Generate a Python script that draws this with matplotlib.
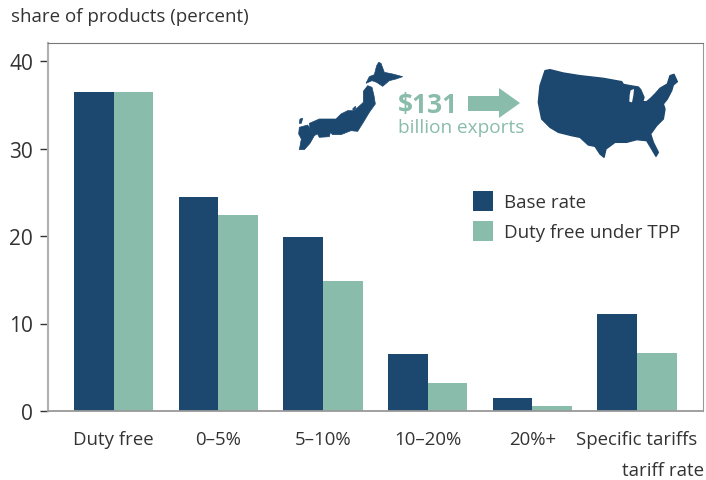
import numpy as np
import matplotlib.pyplot as plt

plt.rcParams['font.family'] = ['Open Sans', 'DejaVu Sans']

categories = ['Duty free', '0–5%', '5–10%', '10–20%', '20%+', 'Specific tariffs']
base_rate = [36.5, 24.5, 19.9, 6.5, 1.5, 11.1]
duty_free_tpp = [36.5, 22.4, 14.9, 3.2, 0.6, 6.6]
yticks = [0, 10, 20, 30, 40]

blue = '#1c4870'
green = '#89bcab'
textcol = '#333333'
W, H = 706, 481

# outlines of the two maps (zoomed crop coords)
us_outline = [(45,35),(60,32),(100,42),(150,50),(220,58),(275,68),(280,76),(300,80),(325,84),(332,92),(342,115),
              (338,128),(350,128),(362,118),(375,105),(390,88),(412,75),(420,50),(432,46),(442,68),(430,78),
              (425,95),(412,120),(400,135),(405,150),(400,180),(380,200),(362,225),(370,250),(385,280),(378,292),
              (362,265),(350,245),(320,242),(290,250),(255,250),(228,270),(222,295),(210,285),(195,262),(175,258),
              (150,235),(125,230),(85,220),(60,205),(35,180),(25,130),(30,80)]
lake_michigan = [(302,94),(312,90),(310,110),(306,130),(298,128),(299,108)]
hokkaido = [(278,25),(285,28),(295,55),(320,60),(350,68),(330,75),(310,80),(290,97),(272,85),(258,80),(240,88),(250,68),(265,62),(272,35)]
honshu = [(245,95),(258,100),(264,125),(268,150),(250,175),(232,205),(215,232),(195,230),(165,242),(140,242),
          (130,232),(100,236),(85,245),(72,225),(70,208),(100,195),(150,195),(165,180),(185,170),(205,170),
          (232,145),(232,112)]
shikoku = [(90,232),(135,228),(130,248),(100,250)]
kyushu = [(40,220),(65,213),(85,245),(72,268),(55,287),(40,287),(46,255),(38,240)]
tsushima = [(42,195),(50,193),(46,208),(40,208)]
sado = [(200,165),(208,157),(210,162),(203,170)]

fig = plt.figure(figsize=(W/100, H/100), dpi=100)
ax = fig.add_axes([48/W, 1-412/H, (702.5-48)/W, (412-43.7)/H])

x = np.arange(len(categories))
bw = 39.7/104.7
ax.bar(x-bw/2, base_rate, bw, color=blue)
ax.bar(x+bw/2, duty_free_tpp, bw, color=green)
ax.set_xlim((48-113.5)/104.7, (702.5-113.5)/104.7)
ax.set_ylim(0, (412-43.7)/8.75)

ax.set_yticks(yticks)
ax.tick_params(axis='y', length=5.8, width=1, color='#333333', labelsize=15, labelcolor=textcol, pad=5)
ax.set_xticks(x)
ax.set_xticklabels(categories)
ax.tick_params(axis='x', length=0, labelsize=13.4, labelcolor=textcol, pad=14)
ax.spines['left'].set_color('#b0b0b0')
ax.spines['left'].set_linewidth(1.5)
ax.spines['top'].set_color('#777777')
ax.spines['right'].set_color('#999999')
ax.spines['bottom'].set_color('#999999')
ax.spines['bottom'].set_linewidth(1.3)

# overlay in pixel coords for the annotations
ov = fig.add_axes([0, 0, 1, 1], facecolor='none')
ov.set_xlim(0, W)
ov.set_ylim(H, 0)
ov.axis('off')

ov.fill([530+p[0]/3 for p in us_outline], [60+p[1]/3 for p in us_outline], facecolor=blue, edgecolor=blue, lw=1, joinstyle='round')
ov.fill([530+p[0]/3 for p in lake_michigan], [60+p[1]/3 for p in lake_michigan], color='white', lw=0)
for shape in [hokkaido, honshu, shikoku, kyushu, tsushima, sado]:
    ov.fill([286+p[0]/3 for p in shape], [55+p[1]/3 for p in shape], facecolor=blue, edgecolor=blue, lw=0.5)

ov.fill([468, 499, 499, 520, 499, 499, 468], [97, 97, 89, 104, 119, 112, 112], color=green, lw=0)
ov.text(398, 105, '$131', color=green, fontsize=19, fontweight='bold', va='center', ha='left')
ov.text(398, 128, 'billion exports', color=green, fontsize=13.7, va='center', ha='left')

ov.add_patch(plt.Rectangle((473, 192), 20, 19.5, color=blue, lw=0))
ov.add_patch(plt.Rectangle((473, 222), 20, 19.5, color=green, lw=0))
ov.text(504, 203, 'Base rate', color=textcol, fontsize=13.5, va='center')
ov.text(504, 233, 'Duty free under TPP', color=textcol, fontsize=13.5, va='center')

ov.text(11, 17, 'share of products (percent)', color=textcol, fontsize=13.5, va='center')
ov.text(704, 471, 'tariff rate', color=textcol, fontsize=13.5, va='center', ha='right')

fig.savefig('out.png', dpi=100)
